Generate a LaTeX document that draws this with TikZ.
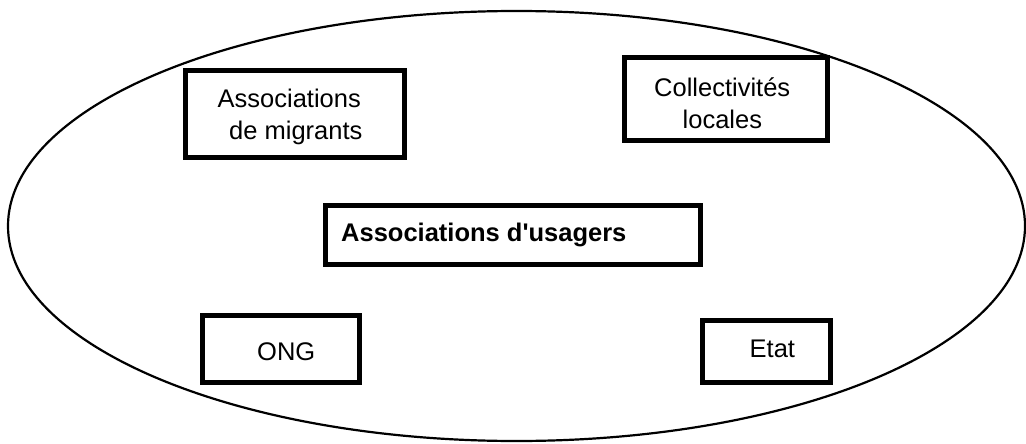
\documentclass[tikz,border=0pt]{standalone}
\usepackage{fontspec}
\setmainfont{Liberation Sans}
\usetikzlibrary{shapes.geometric}
\begin{document}
\begin{tikzpicture}[x=1pt,y=-1pt,
  boxstyle/.style={draw=black, line width=5pt, rectangle, inner sep=0pt},
  labelstyle/.style={inner sep=0pt, font=\fontsize{25.5pt}{31pt}\selectfont, anchor=base west},
  framestyle/.style={draw=black, line width=2.2pt, ellipse, inner sep=0pt}]
\useasboundingbox[fill=white] (0,0) rectangle (1026,444);
\node[framestyle, minimum width=1017pt, minimum height=430pt] (frame) at (516.5,226) {};
% boxes
\node[boxstyle, minimum width=218.8pt, minimum height=86.8pt] (migr) at (295.1,114.1) {};
\node[boxstyle, minimum width=203.3pt, minimum height=83.3pt] (coll) at (725.9,99.1) {};
\node[boxstyle, minimum width=375pt, minimum height=58.5pt] (usag) at (513.3,235) {};
\node[boxstyle, minimum width=156.8pt, minimum height=66.8pt] (ong) at (280.9,349.1) {};
\node[boxstyle, minimum width=128.3pt, minimum height=61.8pt] (etat) at (766.6,351.6) {};
% labels
\node[labelstyle] (migrA) at (217.5,107) {Associations};
\node[labelstyle] (migrB) at (229,139.5) {de migrants};
\node[labelstyle] (collA) at (654,96.7) {Collectivités};
\node[labelstyle] (collB) at (682.5,128.3) {locales};
\node[labelstyle, font=\fontsize{25.5pt}{31pt}\selectfont\bfseries] (usagT) at (341,241.7) {Associations d\textquotesingle usagers};
\node[labelstyle] (ongT) at (257,360) {ONG};
\node[labelstyle] (etatT) at (749.5,357.7) {Etat};
\end{tikzpicture}
\end{document}
